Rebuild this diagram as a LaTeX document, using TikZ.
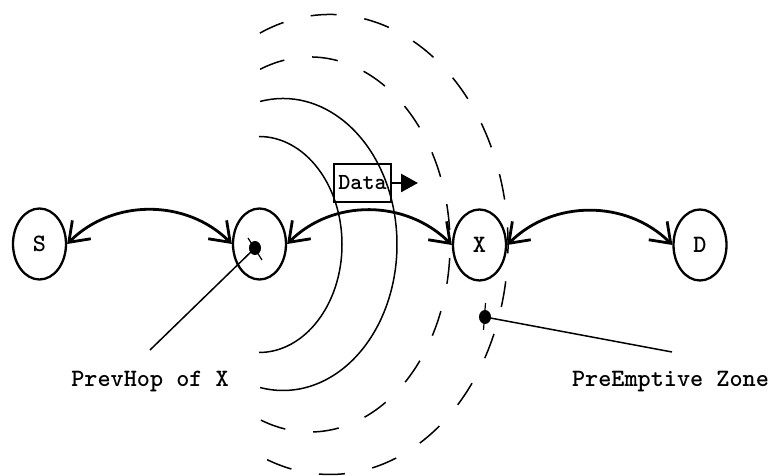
\documentclass[tikz,border=0pt]{standalone}
\usetikzlibrary{shapes.geometric,arrows.meta}
\begin{document}
\begin{tikzpicture}[x=1pt,y=1pt,
  label font/.style={font=\fontsize{25}{28}\selectfont\ttfamily\bfseries},
  host/.style={ellipse,draw,line width=2.3pt,minimum width=53pt,minimum height=71pt,inner sep=0pt,label font},
  hop/.style={line width=2.8pt,{Straight Barb[length=18pt,width=26pt]}-{Straight Barb[length=18pt,width=26pt]}},
  txring/.style={line width=1.5pt},
  zonering/.style={line width=1.5pt,dash pattern=on 26pt off 28pt},
  leader/.style={line width=1.5pt},
  spot/.style={ellipse,fill=black,inner sep=0pt,minimum width=12pt,minimum height=14pt},
  tickmark/.style={line width=1.2pt},
  packet/.style={draw,line width=2.8pt,inner sep=0pt,minimum width=57pt,minimum height=38pt,font=\fontsize{23}{26}\selectfont\ttfamily\bfseries}
]
\useasboundingbox (0,0) rectangle (771,476);

% transmission ranges round the previous hop
\draw[txring] (259,231.5) ++(90:83pt and 108pt) arc[start angle=90,end angle=-90,x radius=83pt,y radius=108pt];
\draw[txring] (283,231.5) ++(101.6:114pt and 146pt) arc[start angle=101.6,end angle=-101.6,x radius=114pt,y radius=146pt];
\draw[zonering] (310,231.5) ++(110.9:140pt and 187.5pt) arc[start angle=110.9,end angle=-110.9,x radius=140pt,y radius=187.5pt];
\draw[zonering] (330,231.5) ++(113.2:178pt and 230pt) arc[start angle=113.2,end angle=-113.2,x radius=178pt,y radius=230pt];

% hosts on the route
\node[host] (S) at (39.5,232) {S};
\node[host] (P) at (259.5,232) {};
\node[host] (X) at (479.5,231) {X};
\node[host] (D) at (700,231) {D};

% links
\draw[hop] (S.east) to[out=45,in=135] (P.west);
\draw[hop] (P.east) to[out=45,in=135] (X.west);
\draw[hop] (X.east) to[out=45,in=135] (D.west);

% data packet travelling towards X
\node[packet] (data) at (362.5,293) {Data};
\coordinate (dataHead) at (418,293);
\draw[line width=2.8pt,-{Triangle[length=17pt,width=18pt]}] (data.east) -- (dataHead);

% marked points and their labels
\node[spot] (spotP) at (255,228) {};
\node[spot] (spotZ) at (485,159) {};
\draw[tickmark] (248,238) -- (262,216);
\draw[tickmark] (485.5,173) -- (483.5,146);
\coordinate (endP) at (150,126);
\coordinate (endZ) at (672,124);
\draw[leader] (spotP.center) -- (endP);
\draw[leader] (spotZ.center) -- (endZ);
\node[label font,anchor=base] (labP) at (150,89) {PrevHop of X};
\node[label font,anchor=base] (labZ) at (670.5,89) {PreEmptive Zone};
\end{tikzpicture}
\end{document}
